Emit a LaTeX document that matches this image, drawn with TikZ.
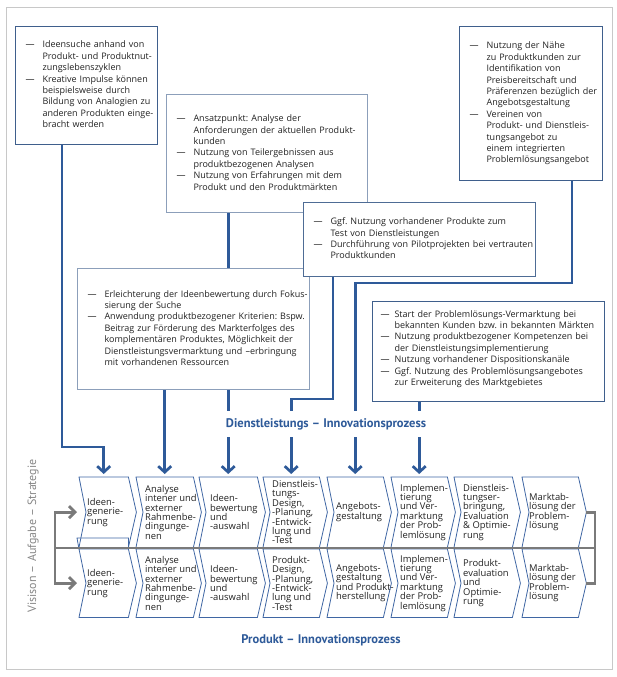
\documentclass[tikz,border=0pt]{standalone}
\usepackage{fontspec}
\setmainfont{PT Sans}
\newfontfamily\bodyfont{Open Sans}
\usetikzlibrary{arrows.meta,calc}
\definecolor{lineblue}{HTML}{2E5A99}
\definecolor{chevblue}{HTML}{3F66A3}
\definecolor{boxdark}{HTML}{3F5F8C}
\definecolor{boxlight}{HTML}{8C9FBA}
\definecolor{bargray}{HTML}{7A7A7A}
\definecolor{framegray}{HTML}{C8C8C8}
\definecolor{txtgray}{HTML}{222222}
\setlength{\parindent}{0pt}
\setlength{\lineskiplimit}{-6pt}
\frenchspacing

\begin{document}
\begin{tikzpicture}[x=1pt,y=-1pt,
  font=\bodyfont\fontsize{9}{11.4}\selectfont,
  infobox/.style={draw=boxdark,line width=1.1pt,fill=white,anchor=north west,
    inner xsep=10pt,inner ysep=0pt,align=left,text=txtgray},
  chev/.style={anchor=north west,inner sep=0pt,minimum height=70pt},
  chevtext/.style={anchor=west,align=left,inner sep=0pt,text=txtgray,
    font=\bodyfont\fontsize{9.4}{9.4}\selectfont},
  chevline/.style={draw=chevblue,line width=0.8pt},
  conn/.style={draw=lineblue,line width=2.7pt},
  arr/.style={conn,-{Straight Barb[length=6pt,width=13pt]},shorten >=3pt},
  bar/.style={draw=bargray,line width=2.8pt},
  bararr/.style={bar,-{Straight Barb[length=6pt,width=12pt]},shorten >=2pt}]
\useasboundingbox (0,0) rectangle (617,677);
\draw[framegray,line width=0.8pt] (6,7) rectangle (612,669);

\node[infobox,text width=122pt,minimum height=118pt] (ideen) at (15,26) {\begin{tabular}{@{}l@{\hspace{8pt}}l@{}}
—&Ideensuche anhand von\\
&Produkt- und Produktnut-\\
&zungslebenszyklen\\
—&Kreative Impulse können\\
&beispielsweise durch\\
&Bildung von Analogien zu\\
&anderen Produkten einge-\\
&bracht werden
\end{tabular}};
\node[infobox,draw=boxlight,text width=181pt,minimum height=118pt] (ansatz) at (166,94) {\begin{tabular}{@{}l@{\hspace{8pt}}l@{}}
—&Ansatzpunkt: Analyse der\\
&Anforderungen der aktuellen Produkt-\\
&kunden\\
—&Nutzung von Teilergebnissen aus\\
&produktbezogenen Analysen\\
—&Nutzung von Erfahrungen mit dem\\
&Produkt und den Produktmärkten
\end{tabular}};
\node[infobox,draw=boxlight,text width=212pt,minimum height=121pt] (bewert) at (77,268) {\begin{tabular}{@{}l@{\hspace{8pt}}l@{}}
—&Erleichterung der Ideenbewertung durch Fokus-\\
&sierung der Suche\\
—&Anwendung produktbezogener Kriterien: Bspw.\\
&Beitrag zur Förderung des Markterfolges des\\
&komplementären Produktes, Möglichkeit der\\
&Dienstleistungsvermarktung und –erbringung\\
&mit vorhandenen Ressourcen
\end{tabular}};
\node[infobox,inner xsep=8pt,text width=216pt,minimum height=100pt] (markt) at (372,301) {\begin{tabular}{@{}l@{\hspace{5pt}}l@{}}
—&Start der Problemlösungs-Vermarktung bei\\
&bekannten Kunden bzw. in bekannten Märkten\\
—&Nutzung produktbezogener Kompetenzen bei\\
&der Dienstleistungsimplementierung\\
—&Nutzung vorhandener Dispositionskanäle\\
—&Ggf. Nutzung des Problemlösungsangebotes\\
&zur Erweiterung des Marktgebietes\\[5pt]
\end{tabular}};
\node[infobox,text width=123pt,minimum height=154pt] (naehe) at (459,26) {\begin{tabular}{@{}l@{\hspace{8pt}}l@{}}
—&Nutzung der Nähe\\
&zu Produktkunden zur\\
&Identifikation von\\
&Preisbereitschaft und\\
&Präferenzen bezüglich der\\
&Angebotsgestaltung\\
—&Vereinen von\\
&Produkt- und Dienstleis-\\
&tungsangebot zu\\
&einem integrierten\\
&Problemlösungsangebot
\end{tabular}};
\node[infobox,draw=boxdark!80!boxlight,text width=212pt,minimum height=74pt] (pilot) at (303,202) {\begin{tabular}{@{}l@{\hspace{8pt}}l@{}}
—&Ggf. Nutzung vorhandener Produkte zum\\
&Test von Dienstleistungen\\
—&Durchführung von Pilotprojekten bei vertrauten\\
&Produktkunden
\end{tabular}};

\node[chev,minimum width=49pt] (s1) at (79,477) {};
\node[chev,minimum width=57pt] (s2) at (136,477) {};
\node[chev,minimum width=58pt] (s3) at (199,477) {};
\node[chev,minimum width=56pt] (s4) at (263,477) {};
\node[chev,minimum width=56pt] (s5) at (327,477) {};
\node[chev,minimum width=56pt] (s6) at (391,477) {};
\node[chev,minimum width=58pt] (s7) at (454,477) {};
\node[chev,minimum width=56pt] (s8) at (522,477) {};
\node[chev,minimum width=49pt,minimum height=68pt] (p1) at (79,549) {};
\node[chev,minimum width=57pt,minimum height=68pt] (p2) at (136,549) {};
\node[chev,minimum width=58pt,minimum height=68pt] (p3) at (199,549) {};
\node[chev,minimum width=56pt,minimum height=68pt] (p4) at (263,549) {};
\node[chev,minimum width=56pt,minimum height=68pt] (p5) at (327,549) {};
\node[chev,minimum width=56pt,minimum height=68pt] (p6) at (391,549) {};
\node[chev,minimum width=58pt,minimum height=68pt] (p7) at (454,549) {};
\node[chev,minimum width=56pt,minimum height=68pt] (p8) at (522,549) {};

\foreach \c in {s1,s2,s3,s4,s5,s6,s7,s8,p1,p2,p3,p4,p5,p6,p7,p8}
  \draw[chevline] (\c.north west) -- (\c.north east) -- ($(\c.east)+(8,0)$)
    -- (\c.south east) -- (\c.south west) -- ($(\c.west)+(7,0)$) -- cycle;
\draw[chevline] (p1.north west) -- ($(p1.north west)+(-2,-11)$)
  -- ($(p1.north east)+(0,-11)$) -- (p1.north east);

\node[chevtext] (st1) at ($(s1.west)+(8,0)$) {Ideen-\\generie-\\rung};
\node[chevtext] (st2) at ($(s2.west)+(9,0)$) {Analyse\\intener und\\externer\\Rahmenbe-\\dingunge-\\nen};
\node[chevtext] (st3) at ($(s3.west)+(11,0)$) {Ideen-\\bewertung\\und\\-auswahl};
\node[chevtext] (st4) at ($(s4.west)+(9,0)$) {Dienstleis-\\tungs-\\Design,\\-Planung,\\-Entwick-\\lung und\\-Test};
\node[chevtext] (st5) at ($(s5.west)+(9,0)$) {Angebots-\\gestaltung};
\node[chevtext] (st6) at ($(s6.west)+(9,0)$) {Implemen-\\tierung\\und Ver-\\marktung\\der Prob-\\lemlösung};
\node[chevtext] (st7) at ($(s7.west)+(9,0)$) {Dienstleis-\\tungser-\\bringung,\\Evaluation\\\& Optimie-\\rung};
\node[chevtext] (st8) at ($(s8.west)+(7,0)$) {Marktab-\\lösung der\\Problem-\\lösung};
\node[chevtext] (pt1) at ($(p1.west)+(8,0)$) {Ideen-\\generie-\\rung};
\node[chevtext] (pt2) at ($(p2.west)+(9,0)$) {Analyse\\intener und\\externer\\Rahmenbe-\\dingunge-\\nen};
\node[chevtext] (pt3) at ($(p3.west)+(11,0)$) {Ideen-\\bewertung\\und\\-auswahl};
\node[chevtext] (pt4) at ($(p4.west)+(9,0)$) {Produkt-\\Design,\\-Planung,\\-Entwick-\\lung und\\-Test};
\node[chevtext] (pt5) at ($(p5.west)+(9,0)$) {Angebots-\\gestaltung\\und Produkt-\\herstellung};
\node[chevtext] (pt6) at ($(p6.west)+(9,0)$) {Implemen-\\tierung\\und Ver-\\marktung\\der Prob-\\lemlösung};
\node[chevtext] (pt7) at ($(p7.west)+(9,0)$) {Produkt-\\evaluation\\und\\Optimie-\\rung};
\node[chevtext] (pt8) at ($(p8.west)+(7,0)$) {Marktab-\\lösung der\\Problem-\\lösung};

\coordinate (lbar) at (55,548);
\coordinate (rbar) at (595,548);
\draw[bar] (lbar) -- (rbar);
\draw[bararr] (lbar) |- (s1.west);
\draw[bararr] (lbar) |- (p1.west);
\draw[bar] ($(s8.east)+(8,0)$) -| (rbar) |- ($(p8.east)+(8,0)$);

\draw[arr] ($(ideen.south west)+(47,0)$) |- ($(s1.north)+(0,-30)$) -- (s1.north);
\draw[arr] (bewert.south -| s2.north) -- (s2.north);
\draw[conn] (ansatz.south -| s3.north) -- (bewert.north -| s3.north);
\draw[arr] (bewert.south -| s3.north) -- (s3.north);
\draw[arr] ($(pilot.south west)+(30,0)$) |- ($(s4.north)+(0,-78)$) -- (s4.north);
\draw[arr] ($(naehe.south east)+(-31,0)$) |- ($(s5.north)+(0,-194)$) -- (s5.north);
\draw[arr] (markt.south -| s6.north) -- (s6.north);

\node[fill=white,inner xsep=2pt,inner ysep=7pt,text=lineblue,
  font=\rmfamily\fontsize{12.5}{14}\selectfont\bfseries] (dlabel) at (326,424)
  {Dienstleistungs – Innovationsprozess};
\node[text=lineblue,font=\rmfamily\fontsize{12.5}{14}\selectfont\bfseries] (plabel) at (321,640)
  {Produkt – Innovationsprozess};
\node[rotate=90,text=bargray!90!white,font=\rmfamily\fontsize{12}{14}\selectfont] (vlabel) at (33,536)
  {Visison – Aufgabe – Strategie};
\end{tikzpicture}
\end{document}
